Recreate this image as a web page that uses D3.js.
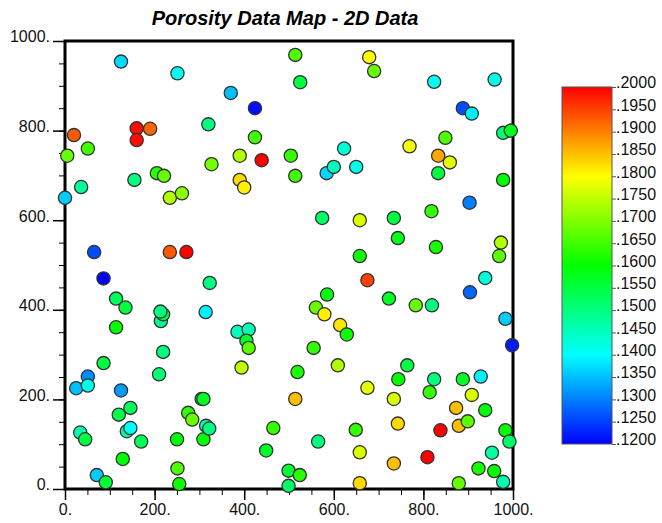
<!DOCTYPE html>
<html>
<head>
<meta charset="utf-8">
<script src="https://cdn.jsdelivr.net/npm/d3@7"></script>
<style>
  body { margin: 0; background: #fff; }
  svg { display: block; font-family: Arial, "Liberation Sans", sans-serif; }
</style>
</head>
<body>
<div id="chart"></div>
<script>
// sample locations (x, y) and porosity value
const wellX = [125, 251, 320, 20, 160, 190, 160, 5, 51, 327, 36, 155, 205, 221, 234, 261, 0, 65, 234, 271,
  514, 525, 370, 424, 424, 390, 439, 504, 514, 390, 400, 623, 584, 600, 650, 574, 658, 658, 679, 690,
  824, 959, 888, 908, 849, 978, 995, 769, 833, 859, 833, 978, 903, 818, 734, 743, 828, 973, 969,
  86, 323, 114, 135, 114, 214, 219, 213, 314, 219, 86, 210, 51, 25, 51, 125, 305, 309, 120, 146,
  34, 45, 138, 146, 170, 129, 275, 284, 250, 309, 315, 322, 71, 91, 251, 255,
  585, 560, 579, 614, 629, 385, 410, 405, 410, 394, 555, 519, 609, 675, 514, 465, 449, 565, 499, 524,
  499, 649, 658, 658, 675, 723, 783, 819, 904, 938, 983, 998, 764, 744, 824, 888, 928, 814, 908, 734,
  873, 938, 743, 838, 879, 899, 983, 992, 734, 809, 953, 923, 958, 978, 879];
const wellY = [954, 928, 814, 790, 805, 804, 779, 744, 760, 725, 674, 690, 705, 699, 650, 660, 650, 529, 529, 529,
  969, 908, 884, 850, 785, 744, 734, 744, 699, 690, 673, 760, 705, 719, 719, 605, 600, 520, 964, 933,
  909, 914, 850, 838, 784, 795, 800, 765, 744, 729, 705, 690, 639, 620, 605, 560, 540, 550, 520,
  470, 460, 425, 405, 361, 375, 390, 396, 395, 306, 281, 256, 251, 225, 231, 220, 201, 201, 166, 181,
  126, 111, 129, 136, 106, 67, 170, 155, 111, 111, 141, 135, 31, 15, 46, 11,
  434, 405, 390, 366, 345, 351, 356, 331, 315, 271, 315, 261, 276, 226, 201, 136, 86, 106, 41, 31,
  7, 132, 82, 13, 466, 425, 410, 410, 439, 471, 380, 321, 276, 245, 245, 245, 251, 216, 210, 201,
  181, 176, 146, 131, 141, 151, 131, 106, 57, 71, 81, 46, 40, 16, 13];
const porosity = [.137, .141, .150, .193, .199, .192, .199, .168, .165, .169, .148, .150, .163, .168, .174, .171, .136, .126, .193, .200,
  .166, .155, .135, .121, .165, .174, .200, .164, .165, .183, .181, .143, .137, .145, .142, .152, .177, .161, .180, .168,
  .141, .142, .126, .139, .166, .151, .158, .179, .187, .178, .155, .160, .130, .164, .155, .158, .162, .174, .167,
  .120, .150, .153, .155, .160, .149, .154, .150, .139, .150, .155, .151, .131, .135, .142, .132, .155, .157, .154, .153,
  .146, .155, .148, .140, .153, .160, .164, .168, .160, .160, .146, .150, .136, .156, .166, .161,
  .159, .168, .181, .182, .161, .145, .146, .157, .167, .175, .164, .162, .174, .178, .185, .164, .157, .150, .156, .163,
  .152, .164, .177, .183, .195, .157, .168, .150, .128, .143, .136, .122, .155, .160, .150, .157, .139, .164, .177, .177,
  .185, .159, .183, .200, .185, .167, .160, .152, .185, .200, .147, .162, .160, .146, .168];

const axisMajor = [0, 200, 400, 600, 800, 1000];
const axisMinor = d3.range(0, 1001, 50);
const colorTicks = d3.range(16, -1, -1).map(i => +(0.12 + i * 0.005).toFixed(4));
const colorStops = [0.12, 0.14, 0.16, 0.18, 0.20];
const colorNames = ['#0000ff', '#00ffff', '#00ff00', '#ffff00', '#ff0000'];

const width = 662;
const height = 523;

const svg = d3.select('#chart').append('svg')
  .attr('width', width)
  .attr('height', height);

const x = d3.scaleLinear().domain([0, 1000]).range([65, 513]);
const y = d3.scaleLinear().domain([0, 1000]).range([489, 41]);
const color = d3.scaleLinear().domain(colorStops).range(colorNames).clamp(true);

// title
svg.append('text')
  .attr('x', 285)
  .attr('y', 25)
  .attr('text-anchor', 'middle')
  .attr('font-size', 20)
  .attr('font-weight', 'bold')
  .attr('font-style', 'italic')
  .text('Porosity Data Map - 2D Data');

const fmtAxis = d => d + '.';

// minor ticks first, major ticks with labels on top
svg.append('g')
  .attr('transform', 'translate(65,0)')
  .call(d3.axisLeft(y).tickValues(axisMinor).tickSize(6).tickFormat(''))
  .call(g => g.select('.domain').remove());

const yAxis = svg.append('g')
  .attr('transform', 'translate(65,0)')
  .call(d3.axisLeft(y).tickValues(axisMajor).tickSize(12).tickPadding(3).tickFormat(fmtAxis))
  .call(g => g.select('.domain').remove());
yAxis.selectAll('text').attr('dy', '0.05em').attr('font-size', 16).attr('font-family', null).attr('fill', '#111');
yAxis.selectAll('line').attr('stroke-width', 1.5);

svg.append('g')
  .attr('transform', 'translate(0,489)')
  .call(d3.axisBottom(x).tickValues(axisMinor).tickSize(6).tickFormat(''))
  .call(g => g.select('.domain').remove());

const xAxis = svg.append('g')
  .attr('transform', 'translate(0,489)')
  .call(d3.axisBottom(x).tickValues(axisMajor).tickSize(11).tickPadding(4).tickFormat(fmtAxis))
  .call(g => g.select('.domain').remove());
xAxis.selectAll('text').attr('font-size', 16).attr('font-family', null).attr('fill', '#111');
xAxis.selectAll('line').attr('stroke-width', 1.5);

// plot frame
svg.append('rect')
  .attr('x', x(0))
  .attr('y', y(1000))
  .attr('width', x(1000) - x(0))
  .attr('height', y(0) - y(1000))
  .attr('fill', 'none')
  .attr('stroke', '#000')
  .attr('stroke-width', 3);

// data points
const idx = d3.range(wellX.length);
svg.append('g')
  .selectAll('circle')
  .data(idx)
  .join('circle')
  .attr('cx', i => x(wellX[i]))
  .attr('cy', i => y(wellY[i]))
  .attr('r', 6.6)
  .attr('fill', i => color(porosity[i]))
  .attr('stroke', '#333')
  .attr('stroke-width', 1.3);

// colour bar
const cb = d3.scaleLinear().domain([0.12, 0.20]).range([444, 87]);
const grad = svg.append('defs').append('linearGradient')
  .attr('id', 'porGrad')
  .attr('x1', 0).attr('y1', 1).attr('x2', 0).attr('y2', 0);
grad.selectAll('stop')
  .data(colorStops)
  .join('stop')
  .attr('offset', d => (d - 0.12) / 0.08)
  .attr('stop-color', d => color(d));

svg.append('rect')
  .attr('x', 562)
  .attr('y', cb(0.20))
  .attr('width', 50)
  .attr('height', cb(0.12) - cb(0.20))
  .attr('fill', 'url(#porGrad)')
  .attr('stroke', '#555')
  .attr('stroke-width', 1);

const cbAxis = svg.append('g')
  .attr('transform', 'translate(612,0)')
  .call(d3.axisRight(cb).tickValues(colorTicks).tickSize(4).tickPadding(0)
    .tickFormat(d => d3.format('.4f')(d).replace(/^0/, '')))
  .call(g => g.select('.domain').remove());
cbAxis.selectAll('text').attr('dy', '0.05em').attr('font-size', 16).attr('font-family', null).attr('fill', '#111');
cbAxis.selectAll('line').attr('stroke', '#555');
</script>
</body>
</html>
